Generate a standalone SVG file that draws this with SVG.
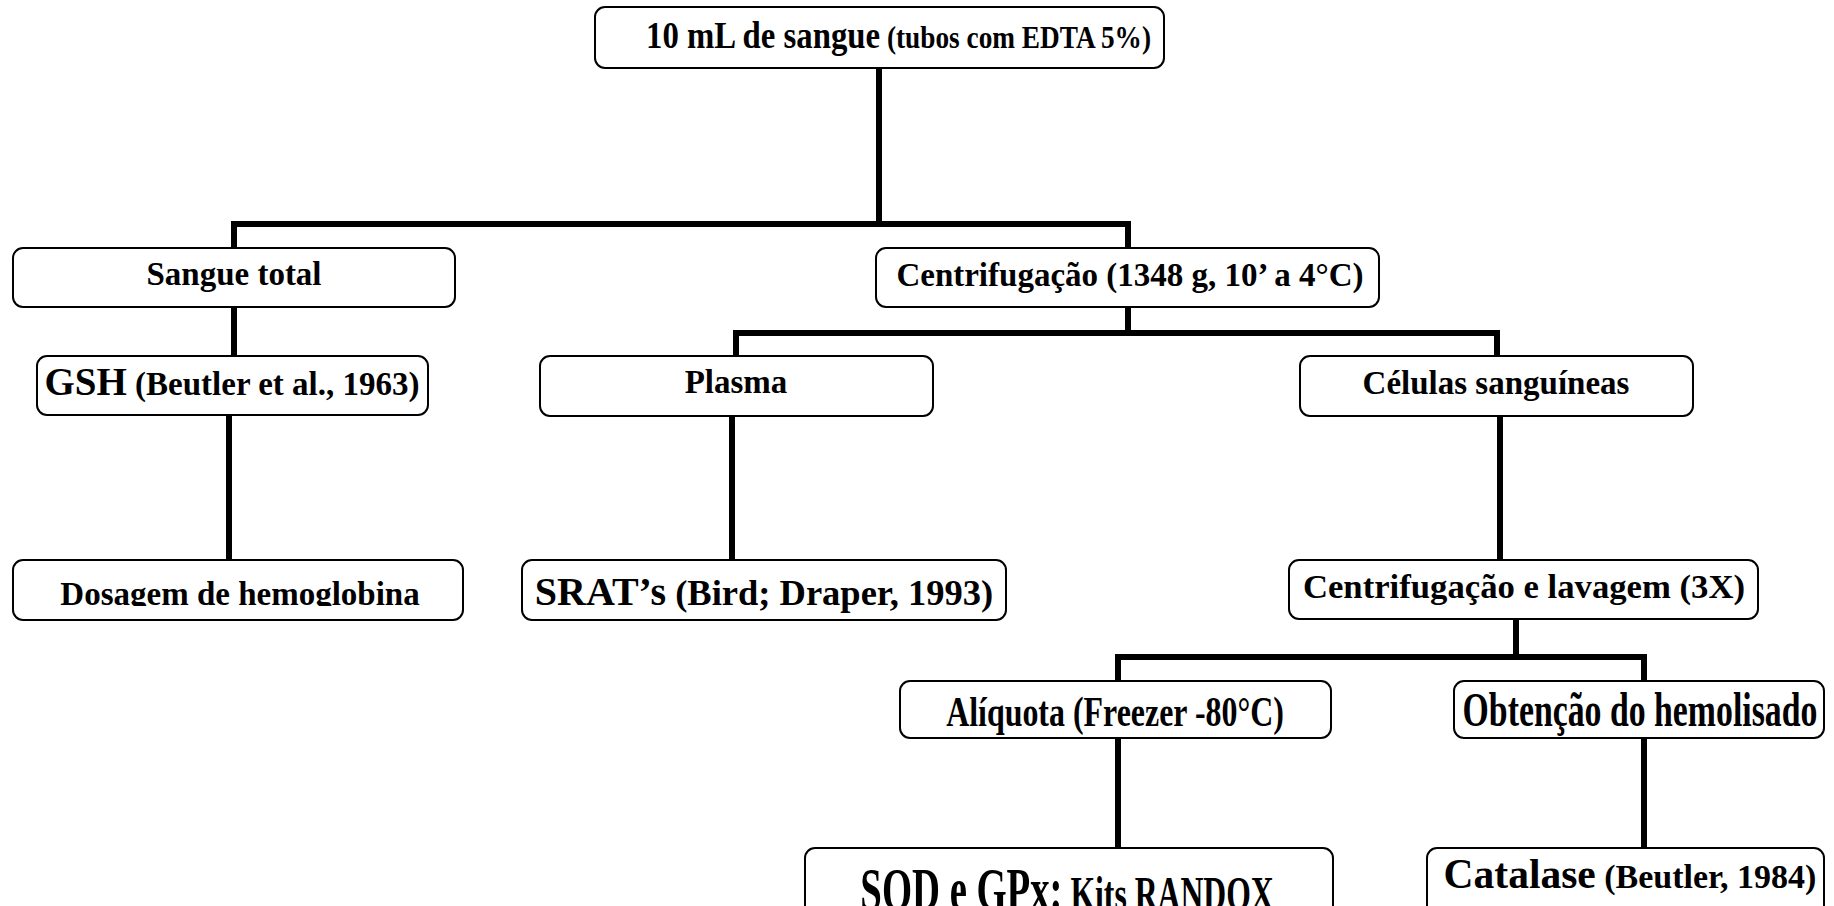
<svg xmlns="http://www.w3.org/2000/svg" width="1834" height="906" viewBox="0 0 1834 906">
<defs>
<style>
.box{fill:#fff;stroke:#000;stroke-width:2}
.t{font-family:"Liberation Serif","Times New Roman",serif;font-weight:bold;fill:#000;font-size:33px}
.c{stroke:#000;stroke-width:6;fill:none;stroke-linejoin:miter}
.m{text-anchor:middle}
</style>
<clipPath id="clipDos"><rect x="13" y="560" width="450" height="46"/></clipPath>
</defs>
<rect width="1834" height="906" fill="#fff"/>
<g id="connectors">
<path class="c" d="M879,68 V224"/>
<path class="c" d="M234,249 V224 H1128 V250"/>
<path class="c" d="M234,307 V356"/>
<path class="c" d="M229,415 V560"/>
<path class="c" d="M1128,307 V333"/>
<path class="c" d="M736,356 V333 H1497 V356"/>
<path class="c" d="M732,416 V560"/>
<path class="c" d="M1500,416 V560"/>
<path class="c" d="M1516,619 V657"/>
<path class="c" d="M1118,681 V657 H1644 V681"/>
<path class="c" d="M1118,738 V848"/>
<path class="c" d="M1644,738 V848"/>
</g>
<g id="n-top">
<rect class="box" x="595" y="7" width="569" height="61" rx="10"/>
<text class="t" transform="translate(646,48) scale(1,1.18)"><tspan font-size="32.8">10 mL de sangue</tspan><tspan font-size="27.3"> (tubos com EDTA 5%)</tspan></text>
</g>
<g id="n-sangue">
<rect class="box" x="13" y="248" width="442" height="59" rx="10"/>
<text class="t m" x="234" y="285">Sangue total</text>
</g>
<g id="n-centrif">
<rect class="box" x="876" y="248" width="503" height="59" rx="10"/>
<text class="t m" x="1130" y="286">Centrifugação (1348 g, 10’ a 4°C)</text>
</g>
<g id="n-gsh">
<rect class="box" x="37" y="356" width="391" height="59" rx="10"/>
<text class="t m" x="232" y="395"><tspan font-size="39">GSH</tspan> (Beutler et al., 1963)</text>
</g>
<g id="n-plasma">
<rect class="box" x="540" y="356" width="393" height="60" rx="10"/>
<text class="t m" x="736" y="393">Plasma</text>
</g>
<g id="n-celulas">
<rect class="box" x="1300" y="356" width="393" height="60" rx="10"/>
<text class="t m" x="1496" y="394">Células sanguíneas</text>
</g>
<g id="n-dosagem">
<rect class="box" x="13" y="560" width="450" height="60" rx="10"/>
<text class="t m" x="240" y="605" clip-path="url(#clipDos)">Dosagem de hemoglobina</text>
</g>
<g id="n-srat">
<rect class="box" x="522" y="560" width="484" height="60" rx="10"/>
<text class="t m" x="764" y="605" style="font-size:36.5px"><tspan font-size="40">SRAT’s</tspan> (Bird; Draper, 1993)</text>
</g>
<g id="n-centlav">
<rect class="box" x="1289" y="560" width="469" height="59" rx="10"/>
<text class="t m" x="1524" y="598" style="font-size:34.7px">Centrifugação e lavagem (3X)</text>
</g>
<g id="n-aliquota">
<rect class="box" x="900" y="681" width="431" height="57" rx="10"/>
<text class="t m" transform="translate(1115,726) scale(0.76,1)" style="font-size:42px">Alíquota (Freezer -80°C)</text>
</g>
<g id="n-obtencao">
<rect class="box" x="1454" y="681" width="370" height="57" rx="10"/>
<text class="t m" transform="translate(1640,726) scale(0.69,1)" style="font-size:49px">Obtenção do hemolisado</text>
</g>
<g id="n-sod">
<rect class="box" x="805" y="848" width="528" height="80" rx="10"/>
<text class="t m" transform="translate(1067,910) scale(0.88,1.37)"><tspan font-size="44">SOD e GPx:</tspan><tspan font-size="36"> Kits RANDOX</tspan></text>
</g>
<g id="n-catalase">
<rect class="box" x="1427" y="848" width="397" height="80" rx="10"/>
<text class="t m" x="1630" y="888" style="font-size:34px"><tspan font-size="41.5">Catalase</tspan> (Beutler, 1984)</text>
</g>
</svg>
